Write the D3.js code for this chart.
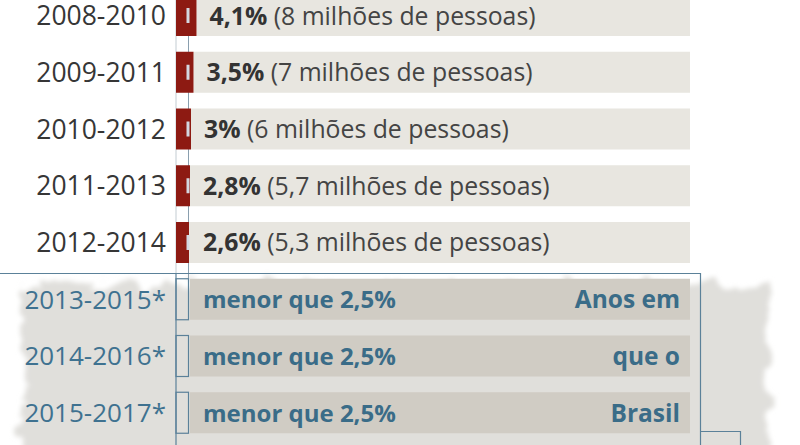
<!DOCTYPE html>
<html>
<head>
<meta charset="utf-8">
<title>Pobreza alimentar</title>
<script src="https://d3js.org/d3.v7.min.js"></script>
<style>
  body { margin: 0; background: #fff; }
  text { font-family: "Open Sans", sans-serif; }
</style>
</head>
<body>
<div id="chart"></div>
<script>

// data
const periods = ["2008-2010", "2009-2011", "2010-2012", "2011-2013", "2012-2014",
                 "2013-2015*", "2014-2016*", "2015-2017*"];
const shares = [4.1, 3.5, 3, 2.8, 2.6, null, null, null];
const shareLabels = ["4,1%", "3,5%", "3%", "2,8%", "2,6%",
                     "menor que 2,5%", "menor que 2,5%", "menor que 2,5%"];
const peopleLabels = ["(8 milhões de pessoas)", "(7 milhões de pessoas)", "(6 milhões de pessoas)",
                      "(5,7 milhões de pessoas)", "(5,3 milhões de pessoas)", "", "", ""];
const noteLines = ["", "", "", "", "", "Anos em", "que o", "Brasil"];
const threshold = 2.5;

let w = 800, h = 445;
let x0 = 176, panelEnd = 690;

let svg = d3.select("#chart")
    .append("svg")
    .attr("width", w)
    .attr("height", h);

let defs = svg.append("defs");
let f = defs.append("filter").attr("id", "rough")
    .attr("x", "-10%").attr("y", "-20%").attr("width", "120%").attr("height", "140%");
f.append("feTurbulence").attr("type", "fractalNoise").attr("baseFrequency", 0.05)
    .attr("numOctaves", 4).attr("seed", 3).attr("result", "n");
f.append("feDisplacementMap").attr("in", "SourceGraphic").attr("in2", "n")
    .attr("scale", 28).attr("xChannelSelector", "R").attr("yChannelSelector", "G").attr("result", "d");
f.append("feGaussianBlur").attr("in", "d").attr("stdDeviation", 2.5);

let xScale = d3.scaleLinear()
    .domain([0, 1])
    .range([x0, x0 + 5]);

let yScale = d3.scaleBand()
    .domain(periods)
    .range([-5, 433.25])
    .paddingInner(0.2775)
    .paddingOuter(0);

let bh = yScale.bandwidth();
let isLow = (d, i) => shares[i] === null;
let barEnd = i => shares[i] === null ? 190 : Math.max(xScale(shares[i]), 190);

// grungy background of the lower block
svg.append("rect")
    .attr("x", 22).attr("y", 284)
    .attr("width", 748).attr("height", 200)
    .attr("fill", "#e0dfdb")
    .attr("filter", "url(#rough)");

// axis line, upper part
svg.append("line")
    .attr("x1", x0).attr("x2", x0)
    .attr("y1", 0).attr("y2", 273)
    .attr("stroke", "#c3ccd2").attr("stroke-width", 1);

// threshold line
svg.append("line")
    .attr("x1", xScale(threshold)).attr("x2", xScale(threshold))
    .attr("y1", 0).attr("y2", yScale(periods[5]))
    .attr("stroke", "#8a9fae").attr("stroke-width", 1);

let rows = svg.selectAll("g.row")
    .data(periods)
    .enter()
    .append("g")
    .attr("class", "row");

// grey panels
rows.append("rect")
    .attr("x", (d, i) => isLow(d, i) ? 190 : xScale(shares[i]))
    .attr("y", d => yScale(d))
    .attr("width", (d, i) => panelEnd - (isLow(d, i) ? 190 : xScale(shares[i])))
    .attr("height", bh)
    .attr("fill", (d, i) => isLow(d, i) ? "#d0ccc4" : "#e8e6e0");

// red bars
rows.filter((d, i) => !isLow(d, i))
    .append("rect")
    .attr("x", xScale(0))
    .attr("y", d => yScale(d))
    .attr("width", d => xScale(shares[periods.indexOf(d)]) - xScale(0))
    .attr("height", bh)
    .attr("fill", "#8d1a12");

// threshold marker inside red bars
rows.filter((d, i) => !isLow(d, i))
    .append("rect")
    .attr("x", xScale(threshold) - 2)
    .attr("y", d => yScale(d) + bh / 2 - 7.5)
    .attr("width", 3)
    .attr("height", 15)
    .attr("fill", "#d3d7e0");

// outlined bars for values under the threshold
rows.filter((d, i) => isLow(d, i))
    .append("rect")
    .attr("x", xScale(0))
    .attr("y", d => yScale(d))
    .attr("width", xScale(threshold) - xScale(0))
    .attr("height", bh)
    .attr("fill", "none")
    .attr("stroke", "#5b8199")
    .attr("stroke-width", 1.2);

// period labels
rows.append("text")
    .attr("x", 166)
    .attr("y", d => yScale(d) + bh / 2 + 9.5)
    .attr("text-anchor", "end")
    .attr("font-size", (d, i) => isLow(d, i) ? 26 : 26.5)
    .attr("fill", (d, i) => isLow(d, i) ? "#3f7290" : "#363636")
    .text(d => d);

// value labels
let vt = rows.append("text")
    .attr("x", (d, i) => barEnd(i) + 13)
    .attr("y", d => yScale(d) + bh / 2 + 9)
    .attr("font-size", (d, i) => isLow(d, i) ? 24 : 24.8)
    .attr("fill", (d, i) => isLow(d, i) ? "#3a6c88" : "#333");
vt.append("tspan")
    .attr("font-weight", "bold")
    .text((d, i) => shareLabels[i]);
vt.append("tspan")
    .attr("fill", "#444")
    .text((d, i) => peopleLabels[i] ? " " + peopleLabels[i] : "");

// side note
rows.append("text")
    .attr("x", 680)
    .attr("y", d => yScale(d) + bh / 2 + 9)
    .attr("text-anchor", "end")
    .attr("font-size", 24.5)
    .attr("font-weight", "bold")
    .attr("fill", "#3a6c88")
    .text((d, i) => noteLines[i]);

// frame of the lower block
svg.append("path")
    .attr("d", "M0,273.5H700.5V445")
    .attr("fill", "none")
    .attr("stroke", "#5b8199").attr("stroke-width", 1.2);
svg.append("line")
    .attr("x1", x0).attr("x2", x0)
    .attr("y1", 273).attr("y2", h)
    .attr("stroke", "#5b8199").attr("stroke-width", 1.2);
svg.append("path")
    .attr("d", "M700.5,431.5H740.5V445")
    .attr("fill", "none")
    .attr("stroke", "#5b8199").attr("stroke-width", 1.2);

</script>
</body>
</html>
